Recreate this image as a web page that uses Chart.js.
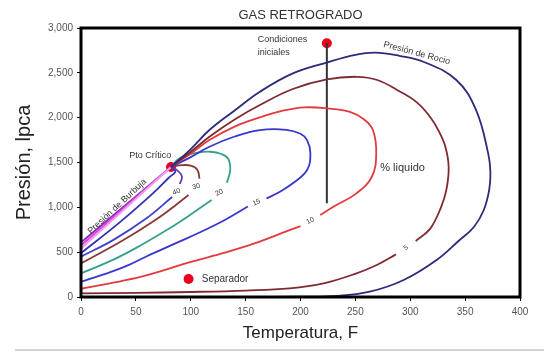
<!DOCTYPE html>
<html>
<head>
<meta charset="utf-8">
<script src="https://cdn.jsdelivr.net/npm/chart.js@4/dist/chart.umd.min.js"></script>
<style>
  html, body { margin: 0; padding: 0; background: #fff; }
  #wrap { width: 544px; height: 352px; position: relative; }
</style>
</head>
<body>
<div id="wrap"><canvas id="c" width="544" height="352"></canvas></div>
<script>
// ---- Data (Temperatura °F, Presión lpca) ----
const tempTicks = [0, 50, 100, 150, 200, 250, 300, 350, 400];
const presTicks = [0, 500, 1000, 1500, 2000, 2500, 3000];

const critPoint = [[82, 1450]];
const initialPoint = [[224, 2830]];
const separatorPoint = [[98, 200]];
const initialLine = [[224, 2830], [224, 1045]];

const bubbleA = [[0, 610], [82, 1450]];
const bubbleB = [[0, 575], [82, 1450]];
const bubbleC = [[0, 540], [82, 1450]];

const dewCurve = [[82,1450],[100,1650],[117,1862],[140,2080],[163,2289],[193,2494],[224,2615],[250,2700],[268,2725],[290,2690],[312,2624],[342,2420],[360,2085],[371,1602],[373,1400],[372,1200],[367,970],[358,780],[345,636],[324,413],[294,190],[263,59],[233,11],[200,3],[150,1],[0,0]];

const liq5Upper = [[82,1450],[100,1620],[117,1787],[140,1980],[163,2141],[193,2320],[224,2427],[251,2456],[270,2420],[291,2289],[306,2170],[318,2010],[326,1850],[332,1676],[335,1450],[333,1200],[328,1000],[318,760],[305,625]];
const liq5Lower = [[287,475],[270,360],[251,264],[221,152],[190,97],[150,72],[100,56],[50,46],[0,41]];

const liq10Upper = [[82,1450],[100,1600],[117,1750],[140,1900],[163,2003],[185,2080],[204,2115],[224,2104],[245,2065],[258,1980],[266,1862],[269,1602],[265,1341],[251,1156],[230,1007],[218,915]];
const liq10Lower = [[200,790],[190,745],[158,598],[131,495],[101,394],[55,226],[25,150],[0,92]];

const liq15Upper = [[82,1450],[100,1560],[117,1676],[140,1790],[163,1862],[187,1865],[200,1820],[206,1750],[209,1602],[206,1416],[193,1268],[180,1165],[169,1100]];
const liq15Lower = [[152,1010],[131,858],[110,730],[86,598],[60,455],[40,338],[20,250],[0,170]];

const liq20Upper = [[82,1450],[88,1530],[96,1578],[106,1610],[118,1620],[128,1595],[134,1545],[136,1420],[133,1275]];
const liq20Lower = [[119,1082],[100,920],[80,760],[55,580],[30,420],[0,264]];

const liq30Upper = [[82,1450],[92,1470],[100,1465],[106,1420],[108,1320]];
const liq30Lower = [[98,1137],[75,920],[50,720],[25,540],[0,375]];

const liq40Upper = [[82,1450],[88,1410],[92,1340],[90,1260]];
const liq40Lower = [[83,1115],[60,880],[30,640],[0,450]];

const liqExtra = [[0,490],[35,830],[65,1150],[80,1330],[86,1400],[82,1450]];

// ---- Text annotations (data-space anchors) ----
const notes = [
  { text: 'Condiciones', x: 161, y: 2877, size: 9, align: 'left', rot: 0 },
  { text: 'iniciales', x: 161, y: 2726, size: 9, align: 'left', rot: 0 },
  { text: 'Pto Crítico', x: 63, y: 1583, size: 9, align: 'center', rot: 0 },
  { text: 'Presión de Burbuja', x: 33, y: 1010, size: 9, align: 'center', rot: -43 },
  { text: 'Presión de Rocio', x: 306, y: 2720, size: 9, align: 'center', rot: 15 },
  { text: 'Separador', x: 110, y: 200, size: 10, align: 'left', rot: 0 },
  { text: '% liquido', x: 293, y: 1438, size: 11, align: 'center', rot: 0 },
  { text: '40', x: 87, y: 1174, size: 7, align: 'center', rot: -20 },
  { text: '30', x: 105, y: 1232, size: 7, align: 'center', rot: -15 },
  { text: '20', x: 126, y: 1163, size: 7, align: 'center', rot: -25 },
  { text: '15', x: 160, y: 1055, size: 7, align: 'center', rot: -22 },
  { text: '10', x: 209, y: 850, size: 7, align: 'center', rot: -28 },
  { text: '5', x: 296, y: 548, size: 7, align: 'center', rot: -36 }
];

const toXY = arr => arr.map(p => ({ x: p[0], y: p[1] }));
const FONT = '"Liberation Sans", Arial, sans-serif';

function lineDS(arr, color, width, tension) {
  return {
    data: toXY(arr), showLine: true, borderColor: color, backgroundColor: color,
    borderWidth: width, pointRadius: 0, tension: tension, fill: false
  };
}
function dotDS(arr) {
  return {
    data: toXY(arr), showLine: false, pointRadius: 5, pointHoverRadius: 5,
    pointBackgroundColor: '#e8001c', pointBorderColor: '#e8001c', borderWidth: 0
  };
}

const datasets = [
  lineDS(dewCurve, '#2b2b7c', 1.8, 0.4),
  lineDS(liq5Upper, '#7e2a30', 1.8, 0.4),
  lineDS(liq5Lower, '#7e2a30', 1.8, 0.4),
  lineDS(liq10Upper, '#e23a3e', 1.8, 0.4),
  lineDS(liq10Lower, '#e23a3e', 1.8, 0.4),
  lineDS(liq15Upper, '#3737cc', 1.8, 0.4),
  lineDS(liq15Lower, '#3737cc', 1.8, 0.4),
  lineDS(liq20Upper, '#35a08e', 1.8, 0.4),
  lineDS(liq20Lower, '#35a08e', 1.8, 0.4),
  lineDS(liq30Upper, '#8a3a34', 1.8, 0.4),
  lineDS(liq30Lower, '#8a3a34', 1.8, 0.4),
  lineDS(liq40Upper, '#6a3ab8', 1.8, 0.4),
  lineDS(liq40Lower, '#4040c8', 1.8, 0.4),
  lineDS(liqExtra, '#3030b8', 1.8, 0.4),
  lineDS(bubbleC, '#f29af2', 2, 0),
  lineDS(bubbleB, '#e040e0', 2, 0),
  lineDS(bubbleA, '#7a2ab0', 1.8, 0),
  lineDS(initialLine, '#333333', 2, 0),
  dotDS(critPoint),
  dotDS(initialPoint),
  dotDS(separatorPoint)
];

const decorPlugin = {
  id: 'decor',
  afterDatasetsDraw(chart) {
    const { ctx, chartArea: a, scales } = chart;
    ctx.save();
    ctx.fillStyle = '#333';
    ctx.textBaseline = 'middle';
    notes.forEach(n => {
      const px = scales.x.getPixelForValue(n.x);
      const py = scales.y.getPixelForValue(n.y);
      ctx.save();
      ctx.translate(px, py);
      ctx.rotate(n.rot * Math.PI / 180);
      ctx.font = n.size + 'px ' + FONT;
      ctx.textAlign = n.align;
      ctx.fillText(n.text, 0, 0);
      ctx.restore();
    });
    // frame
    ctx.strokeStyle = '#000';
    ctx.lineWidth = 3;
    ctx.strokeRect(a.left, a.top, a.right - a.left, a.bottom - a.top);
    ctx.restore();
  },
  afterDraw(chart) {
    const { ctx } = chart;
    ctx.save();
    ctx.strokeStyle = '#c4c4c4';
    ctx.lineWidth = 1.5;
    ctx.beginPath();
    ctx.moveTo(15, 350);
    ctx.lineTo(544, 350);
    ctx.stroke();
    ctx.restore();
  }
};

new Chart(document.getElementById('c'), {
  type: 'scatter',
  data: { datasets },
  options: {
    responsive: false,
    animation: false,
    layout: { padding: { top: 0, right: 24, left: 0, bottom: 0 } },
    plugins: {
      legend: { display: false },
      tooltip: { enabled: false },
      title: {
        display: true, text: 'GAS RETROGRADO', fullSize: false,
        color: '#333', font: { family: FONT, size: 13, weight: 'normal' },
        padding: { top: 8, bottom: 4.4 }
      }
    },
    scales: {
      x: {
        type: 'linear', min: 0, max: 400,
        afterBuildTicks: s => { s.ticks = tempTicks.map(v => ({ value: v })); },
        afterFit: s => { s.height = 55; },
        border: { display: false },
        grid: { display: true, drawOnChartArea: false, drawTicks: true, tickLength: 4, color: '#000' },
        ticks: { color: '#555', padding: 5, font: { family: FONT, size: 10 }, maxRotation: 0 },
        title: { display: true, text: 'Temperatura, F', color: '#222',
          font: { family: FONT, size: 17 }, padding: { top: 0, bottom: 8 } }
      },
      y: {
        type: 'linear', min: 0, max: 3000,
        afterBuildTicks: s => { s.ticks = presTicks.map(v => ({ value: v })); },
        afterFit: s => { s.width = 81; },
        border: { display: false },
        grid: { display: true, drawOnChartArea: false, drawTicks: true, tickLength: 4, color: '#000' },
        ticks: { color: '#555', padding: 4, font: { family: FONT, size: 10 },
          callback: v => Number(v).toLocaleString('en-US') },
        title: { display: true, text: 'Presión, lpca', color: '#222',
          font: { family: FONT, size: 20 }, padding: { top: 12, bottom: 0 } }
      }
    }
  },
  plugins: [decorPlugin]
});
</script>
</body>
</html>
